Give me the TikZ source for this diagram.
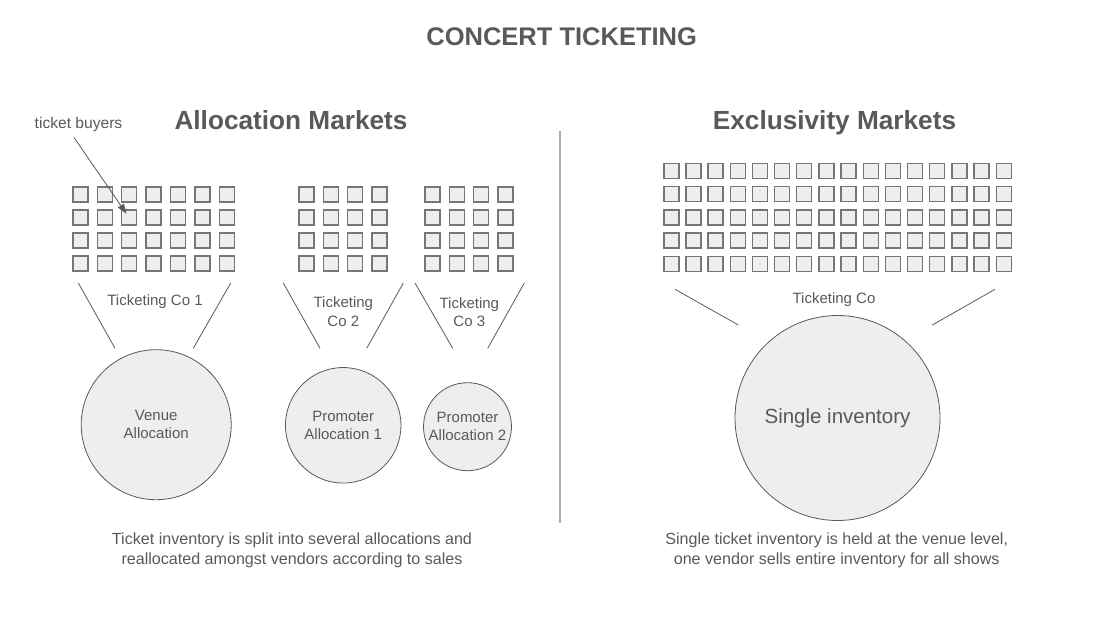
\documentclass[tikz,border=0pt]{standalone}
\usepackage{fontspec}
\setmainfont{Liberation Sans}
\usetikzlibrary{arrows.meta}
\definecolor{txt}{HTML}{595959}
\definecolor{sqfill}{HTML}{EEEEEE}
\definecolor{sqdraw}{HTML}{767676}
\definecolor{divc}{HTML}{ABABAB}
\tikzset{
  seat/.style={draw=sqdraw, fill=sqfill, line width=1.4pt, minimum size=15pt, inner sep=0pt, outer sep=0pt},
  pool/.style={circle, draw=txt, fill=sqfill, line width=0.8pt, inner sep=0pt, align=center, text=txt, font=\fontsize{15}{18}\selectfont},
  heading/.style={text=txt, anchor=base, font=\bfseries\fontsize{26.2}{30}\selectfont},
  lbl/.style={text=txt, align=center, font=\fontsize{15}{18.5}\selectfont},
  note/.style={text=txt, align=center, font=\fontsize{16.1}{20}\selectfont},
  funnel/.style={draw=txt, line width=0.8pt},
}
\begin{document}
\begin{tikzpicture}[x=1pt, y=-1pt]
\useasboundingbox (0,0) rectangle (1108,619);
% titles
\node[heading, font=\bfseries\fontsize{25.5}{30}\selectfont] (title) at (561.7,45) {CONCERT TICKETING};
\node[heading] (alloc) at (291,129.5) {Allocation Markets};
\node[heading] (excl) at (834.5,129.5) {Exclusivity Markets};
% divider
\draw[divc, line width=2pt] (560,131) -- (560,523);
% seat grids
\foreach \i in {0,...,6} \foreach \j in {0,...,3}
  \node[seat] (L-\j-\i) at ({80.3+24.4*\i},{194.5+23*\j}) {};
\foreach \i in {0,...,3} \foreach \j in {0,...,3}
  \node[seat] (M-\j-\i) at ({306.5+24.3*\i},{194.5+23*\j}) {};
\foreach \i in {0,...,3} \foreach \j in {0,...,3}
  \node[seat] (N-\j-\i) at ({432.5+24.3*\i},{194.5+23*\j}) {};
\foreach \i in {0,...,15} \foreach \j in {0,...,4}
  \node[seat] (R-\j-\i) at ({671.3+22.16*\i},{170.7+23.3*\j}) {};
% ticket buyers label and arrow
\node[lbl, font=\fontsize{15.6}{18}\selectfont] (buyers) at (78.5,124.5) {ticket buyers};
\coordinate (buyarrow) at (74,137.5);
\draw[txt, line width=0.8pt, -{Triangle[length=10pt,width=7pt]}, shorten >=4.5pt] (buyarrow) -- (L-1-2.center);
% funnels
\draw[funnel] (78.3,283) -- (115,348.3);
\draw[funnel] (230.7,283) -- (193.3,348.3);
\draw[funnel] (283.3,283) -- (320,348.3);
\draw[funnel] (403.3,283) -- (366.7,348.3);
\draw[funnel] (415,283) -- (452.7,348.3);
\draw[funnel] (524.3,283) -- (487.7,348.3);
\draw[funnel] (675,289.3) -- (738.3,325);
\draw[funnel] (995,289.3) -- (932.3,325);
% ticketing companies
\node[lbl] (tc1) at (155,302) {Ticketing Co 1};
\node[lbl] (tc2) at (343.3,311.5) {Ticketing\\Co 2};
\node[lbl] (tc3) at (469.3,312) {Ticketing\\Co 3};
\node[lbl] (tc) at (834,299.5) {Ticketing Co};
% inventory pools
\node[pool, minimum size=150pt] (venue) at (156.2,424.7) {Venue\\Allocation};
\node[pool, minimum size=115.5pt] (prom1) at (343.2,425.3) {Promoter\\Allocation 1};
\node[pool, minimum size=88pt] (prom2) at (467.5,426.7) {Promoter\\Allocation 2};
\node[pool, minimum size=205pt, font=\fontsize{20.5}{24}\selectfont] (single) at (837.5,418) {Single inventory};
% notes
\node[note] (noteL) at (292,550.5) {Ticket inventory is split into several allocations and\\reallocated amongst vendors according to sales};
\node[note] (noteR) at (836.7,550.5) {Single ticket inventory is held at the venue level,\\one vendor sells entire inventory for all shows};
\end{tikzpicture}
\end{document}
